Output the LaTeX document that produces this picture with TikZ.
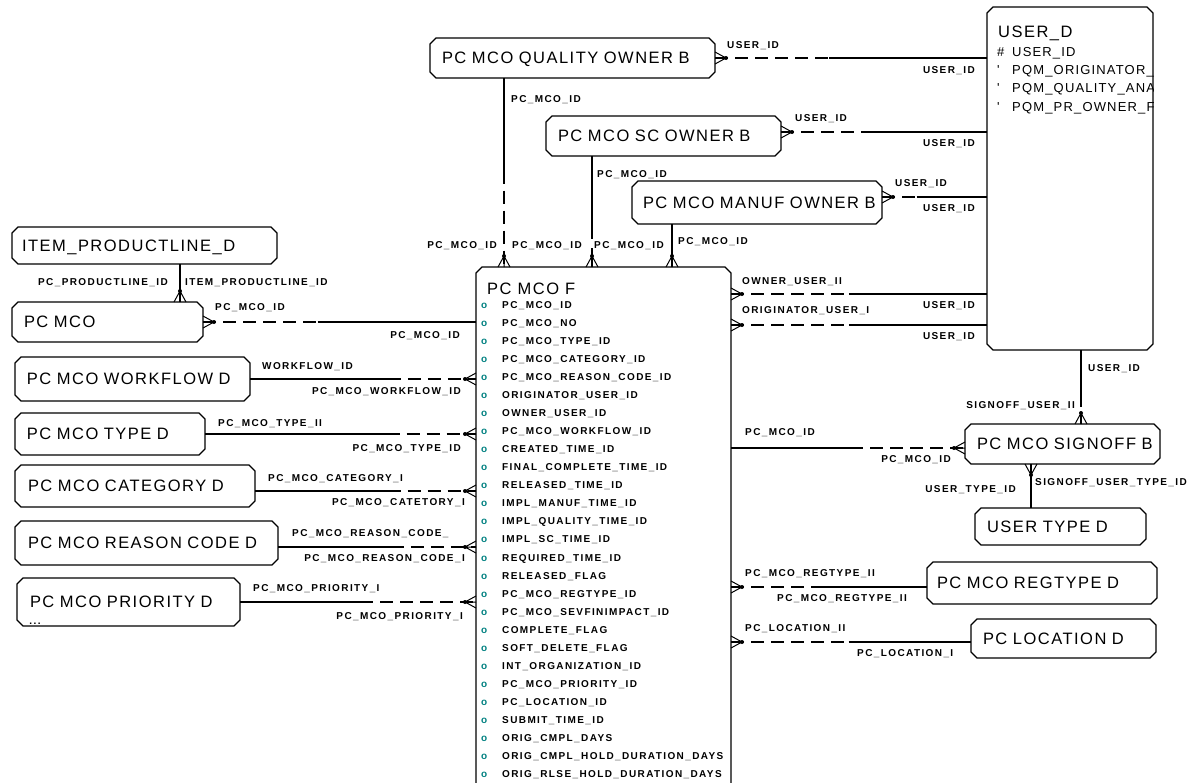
\documentclass[tikz,border=0pt]{standalone}
\usepackage{fontspec}
\setmainfont{Liberation Sans}
\newfontfamily\boxfont[LetterSpace=9]{Liberation Sans}
\newfontfamily\keyfont[LetterSpace=14]{Liberation Sans}
\usetikzlibrary{calc}
\definecolor{attrteal}{RGB}{0,128,128}

\begin{document}
\begin{tikzpicture}[x=1pt,y=-1pt,
  entity/.style={rectangle,outer sep=0pt,anchor=north west,inner xsep=12pt,inner ysep=0pt,
    align=left,font=\boxfont\fontsize{16.5}{18}\selectfont,text height=11.8pt,text depth=0pt,
    append after command={\pgfextra{\draw[rel]
      ([xshift=6pt]\tikzlastnode.north west) -- ([xshift=-6pt]\tikzlastnode.north east)
      -- ([yshift=-6pt]\tikzlastnode.north east) -- ([yshift=6pt]\tikzlastnode.south east)
      -- ([xshift=-6pt]\tikzlastnode.south east) -- ([xshift=6pt]\tikzlastnode.south west)
      -- ([yshift=6pt]\tikzlastnode.south west) -- ([yshift=-6pt]\tikzlastnode.north west) -- cycle;}}},
  lbl/.style={inner sep=0pt,font=\keyfont\bfseries\fontsize{10}{10}\selectfont,
    text height=7.2pt,text depth=0pt},
  uattr/.style={anchor=west,inner sep=0pt,font=\boxfont\fontsize{13}{13}\selectfont,
    text height=9.4pt,text depth=0pt},
  rel/.style={line width=1.2pt},
  opt/.style={rel,dash pattern=on 13pt off 7pt},
  crow/.pic={\draw[line width=1pt] (0,-6)--(-11,0)--(0,6) (0,0)--(-11,0);
    \fill (-11,0) circle (2);}]
\useasboundingbox (0,0) rectangle (1202,782);
\clip (0,0) rectangle (1202,782);

\node[entity,text width=261pt,minimum height=40pt] (qowner) at (430,38) {\mbox{PC MCO QUALITY OWNER B}};
\node[entity,text width=211pt,minimum height=40pt] (scowner) at (546,116) {\mbox{PC MCO SC OWNER B}};
\node[entity,text width=228pt,inner xsep=11pt,minimum height=43pt] (mowner) at (632,181) {\mbox{PC MCO MANUF OWNER B}};
\node[entity,minimum width=166pt,minimum height=343pt] (userd) at (987,7) {};
\node[entity,text width=245pt,inner xsep=10pt,minimum height=37pt] (prodline) at (12,227) {\mbox{ITEM\_PRODUCTLINE\_D}};
\node[entity,text width=167pt,minimum height=40pt] (pcmco) at (12,302) {\mbox{PC MCO}};
\node[entity,text width=211pt,minimum height=44pt] (workflow) at (15,357) {\mbox{PC MCO WORKFLOW D}};
\node[entity,text width=166pt,minimum height=42pt] (mcotype) at (15,413) {\mbox{PC MCO TYPE D}};
\node[entity,text width=214pt,inner xsep=13pt,minimum height=42pt] (category) at (15,465) {\mbox{PC MCO CATEGORY D}};
\node[entity,text width=237pt,inner xsep=13pt,minimum height=44pt] (reason) at (15,521) {\mbox{PC MCO REASON CODE D}};
\node[entity,text width=197pt,inner xsep=13pt,minimum height=48pt] (priority) at (17,578) {\mbox{PC MCO PRIORITY D}};
\node[entity,minimum width=255pt,minimum height=560pt] (mcof) at (476,267) {};
\node[entity,text width=171pt,minimum height=40pt] (signoff) at (965,424) {\mbox{PC MCO SIGNOFF B}};
\node[entity,text width=147pt,minimum height=37pt] (usertype) at (975,508) {\mbox{USER TYPE D}};
\node[entity,text width=210pt,inner xsep=10pt,minimum height=42pt] (regtype) at (927,562) {\mbox{PC MCO REGTYPE D}};
\node[entity,text width=161pt,minimum height=39pt] (location) at (971,619) {\mbox{PC LOCATION D}};
\node[lbl] (primore) at (35,621) {...};

\begin{scope}
\clip (userd.north west) rectangle (userd.south east);
\node[anchor=west,inner sep=0pt,font=\boxfont\fontsize{16.5}{18}\selectfont,text height=11.8pt,text depth=0pt] (usertitle) at (998,32) {USER\_D};
\node[uattr] (ua1) at (997,52) {\makebox[15pt][l]{\#}USER\_ID};
\node[uattr] (ua2) at (997,70) {\makebox[15pt][l]{'}PQM\_ORIGINATOR\_F};
\node[uattr] (ua3) at (997,88) {\makebox[15pt][l]{'}PQM\_QUALITY\_ANAL};
\node[uattr] (ua4) at (997,107) {\makebox[15pt][l]{'}PQM\_PR\_OWNER\_FL};
\end{scope}

\begin{scope}
\clip (mcof.north west) rectangle (mcof.south east);
\node[anchor=west,inner sep=0pt,font=\boxfont\fontsize{16.5}{18}\selectfont,text height=11.8pt,text depth=0pt] (mcoftitle) at (487,289) {PC MCO F};
\foreach \a [count=\i] in {PC\_MCO\_ID,PC\_MCO\_NO,PC\_MCO\_TYPE\_ID,PC\_MCO\_CATEGORY\_ID,
  PC\_MCO\_REASON\_CODE\_ID,ORIGINATOR\_USER\_ID,OWNER\_USER\_ID,PC\_MCO\_WORKFLOW\_ID,
  CREATED\_TIME\_ID,FINAL\_COMPLETE\_TIME\_ID,RELEASED\_TIME\_ID,IMPL\_MANUF\_TIME\_ID,
  IMPL\_QUALITY\_TIME\_ID,IMPL\_SC\_TIME\_ID,REQUIRED\_TIME\_ID,RELEASED\_FLAG,
  PC\_MCO\_REGTYPE\_ID,PC\_MCO\_SEVFINIMPACT\_ID,COMPLETE\_FLAG,SOFT\_DELETE\_FLAG,
  INT\_ORGANIZATION\_ID,PC\_MCO\_PRIORITY\_ID,PC\_LOCATION\_ID,SUBMIT\_TIME\_ID,
  ORIG\_CMPL\_DAYS,ORIG\_CMPL\_HOLD\_DURATION\_DAYS,ORIG\_RLSE\_HOLD\_DURATION\_DAYS}
  \node[lbl,anchor=west] (attr\i) at (481,286.97+18.03*\i) {\makebox[21pt][l]{\textcolor{attrteal}{o}}\a};
\end{scope}

\draw[opt] (qowner.east) -- ($(qowner.east)!.42!(qowner.east -| userd.west)$) coordinate (qu);
\draw[rel] (qu) -- (qu -| userd.west);
\pic[rotate=180] at (qowner.east) {crow};
\coordinate (su) at ([yshift=4pt]scowner.east);
\draw[opt] (su) -- ($(su)!.43!(su -| userd.west)$) coordinate (su2);
\draw[rel] (su2) -- (su2 -| userd.west);
\pic[rotate=180] at (su) {crow};
\coordinate (mu) at ([yshift=5.5pt]mowner.east);
\draw[opt] (mu) -- ($(mu)!.33!(mu -| userd.west)$) coordinate (mu2);
\draw[rel] (mu2) -- (mu2 -| userd.west);
\pic[rotate=180] at (mu) {crow};
\coordinate (ow) at ([yshift=253pt]mcof.east);
\draw[opt] (ow) -- ($(ow)!.46!(ow -| userd.west)$) coordinate (ow2);
\draw[rel] (ow2) -- (ow2 -| userd.west);
\pic[rotate=180] at (ow) {crow};
\coordinate (og) at ([yshift=222pt]mcof.east);
\draw[opt] (og) -- ($(og)!.46!(og -| userd.west)$) coordinate (og2);
\draw[rel] (og2) -- (og2 -| userd.west);
\pic[rotate=180] at (og) {crow};
\coordinate (us) at ([xshift=11pt]userd.south);
\draw[rel] (us) -- ($(us)!.6!(us |- signoff.north)$) coordinate (us2);
\draw[opt] (us2) -- (us2 |- signoff.north);
\pic[rotate=-90] at (us |- signoff.north) {crow};
\coordinate (sg) at ([yshift=99pt]mcof.east);
\draw[rel] (sg) -- ($(sg)!.51!(sg -| signoff.west)$) coordinate (sg2);
\draw[opt] (sg2) -- (sg2 -| signoff.west);
\pic at (sg -| signoff.west) {crow};
\coordinate (ut) at ([xshift=-29.5pt]usertype.north);
\draw[rel] (ut) -- (ut |- signoff.south);
\pic[rotate=90] at (ut |- signoff.south) {crow};
\coordinate (rg) at ([yshift=-40pt]mcof.east);
\draw[opt] (rg) -- ($(rg)!.45!(rg -| regtype.west)$) coordinate (rg2);
\draw[rel] (rg2) -- (rg2 -| regtype.west);
\pic[rotate=180] at (rg) {crow};
\coordinate (lo) at ([yshift=-95pt]mcof.east);
\draw[opt] (lo) -- ($(lo)!.49!(lo -| location.west)$) coordinate (lo2);
\draw[rel] (lo2) -- (lo2 -| location.west);
\pic[rotate=180] at (lo) {crow};

\coordinate (qm) at ([xshift=-68.5pt]qowner.south);
\draw[rel] (qm) -- ($(qm)!.49!(qm |- mcof.north)$) coordinate (qm2);
\draw[opt] (qm2) -- (qm2 |- mcof.north);
\pic[rotate=-90] at (qm |- mcof.north) {crow};
\coordinate (sm) at ([xshift=-71.5pt]scowner.south);
\draw[rel] (sm) -- ($(sm)!.75!(sm |- mcof.north)$) coordinate (sm2);
\draw[rel] ([yshift=-9pt]sm2) -- (sm2 |- mcof.north);
\pic[rotate=-90] at (sm |- mcof.north) {crow};
\coordinate (mm) at ([xshift=-85pt]mowner.south);
\draw[rel] (mm) -- (mm |- mcof.north);
\pic[rotate=-90] at (mm |- mcof.north) {crow};
\coordinate (pp) at ([xshift=35.5pt]prodline.south);
\draw[rel] (pp) -- (pp |- pcmco.north);
\pic[rotate=-90] at (pp |- pcmco.north) {crow};

\draw[opt] (pcmco.east) -- ($(pcmco.east)!.42!(pcmco.east -| mcof.west)$) coordinate (pm);
\draw[rel] (pm) -- (pm -| mcof.west);
\pic[rotate=180] at (pcmco.east) {crow};
\draw[rel] (workflow.east) -- ($(workflow.east)!.61!(workflow.east -| mcof.west)$) coordinate (wf);
\draw[opt] (wf) -- (wf -| mcof.west);
\pic at (workflow.east -| mcof.west) {crow};
\draw[rel] (mcotype.east) -- ($(mcotype.east)!.67!(mcotype.east -| mcof.west)$) coordinate (ty);
\draw[opt] (ty) -- (ty -| mcof.west);
\pic at (mcotype.east -| mcof.west) {crow};
\coordinate (ca) at ([yshift=-5pt]category.east);
\draw[rel] (ca) -- ($(ca)!.6!(ca -| mcof.west)$) coordinate (ca2);
\draw[opt] (ca2) -- (ca2 -| mcof.west);
\pic at (ca -| mcof.west) {crow};
\coordinate (re) at ([yshift=-4pt]reason.east);
\draw[rel] (re) -- ($(re)!.57!(re -| mcof.west)$) coordinate (re2);
\draw[opt] (re2) -- (re2 -| mcof.west);
\pic at (re -| mcof.west) {crow};
\draw[rel] (priority.east) -- ($(priority.east)!.51!(priority.east -| mcof.west)$) coordinate (pr);
\draw[opt] (pr) -- (pr -| mcof.west);
\pic at (priority.east -| mcof.west) {crow};

\node[lbl,anchor=west] (qu1) at (727,45) {USER\_ID};
\node[lbl,anchor=east] (qu2) at (975,70) {USER\_ID};
\node[lbl,anchor=west] (qm1) at (511,99) {PC\_MCO\_ID};
\node[lbl,anchor=east] (qm3) at (497,245) {PC\_MCO\_ID};
\node[lbl,anchor=west] (su1) at (795,118) {USER\_ID};
\node[lbl,anchor=east] (su3) at (975,143) {USER\_ID};
\node[lbl,anchor=west] (sm1) at (597,174) {PC\_MCO\_ID};
\node[lbl,anchor=west] (sm3) at (512,245) {PC\_MCO\_ID};
\node[lbl,anchor=west] (mu1) at (895,183) {USER\_ID};
\node[lbl,anchor=east] (mu3) at (975,208) {USER\_ID};
\node[lbl,anchor=west] (mm1) at (678,241) {PC\_MCO\_ID};
\node[lbl,anchor=west] (mm3) at (594,245) {PC\_MCO\_ID};
\node[lbl,anchor=east] (pp1) at (168,282) {PC\_PRODUCTLINE\_ID};
\node[lbl,anchor=west] (pp2) at (185,282) {ITEM\_PRODUCTLINE\_ID};
\node[lbl,anchor=west] (pm1) at (215,307) {PC\_MCO\_ID};
\node[lbl,anchor=east] (pm3) at (460,335) {PC\_MCO\_ID};
\node[lbl,anchor=west] (wf1) at (262,366) {WORKFLOW\_ID};
\node[lbl,anchor=east] (wf3) at (461,391) {PC\_MCO\_WORKFLOW\_ID};
\node[lbl,anchor=west] (ty1) at (218,423) {PC\_MCO\_TYPE\_II};
\node[lbl,anchor=east] (ty3) at (461,448) {PC\_MCO\_TYPE\_ID};
\node[lbl,anchor=west] (ca1) at (268,478) {PC\_MCO\_CATEGORY\_I};
\node[lbl,anchor=east] (ca3) at (465,502) {PC\_MCO\_CATETORY\_I};
\node[lbl,anchor=west] (re1) at (292,533) {PC\_MCO\_REASON\_CODE\_};
\node[lbl,anchor=east] (re3) at (465,558) {PC\_MCO\_REASON\_CODE\_I};
\node[lbl,anchor=west] (pr1) at (253,588) {PC\_MCO\_PRIORITY\_I};
\node[lbl,anchor=east] (pr3) at (463,616) {PC\_MCO\_PRIORITY\_I};
\node[lbl,anchor=west] (ow1) at (742,281) {OWNER\_USER\_II};
\node[lbl,anchor=east] (ow3) at (975,305) {USER\_ID};
\node[lbl,anchor=west] (og1) at (742,310) {ORIGINATOR\_USER\_I};
\node[lbl,anchor=east] (og3) at (975,336) {USER\_ID};
\node[lbl,anchor=west] (us1) at (1088,368) {USER\_ID};
\node[lbl,anchor=east] (us3) at (1075,405) {SIGNOFF\_USER\_II};
\node[lbl,anchor=west] (sg1) at (745,432) {PC\_MCO\_ID};
\node[lbl,anchor=east] (sg3) at (951,459) {PC\_MCO\_ID};
\node[lbl,anchor=east] (ut1) at (1016,489) {USER\_TYPE\_ID};
\node[lbl,anchor=west] (ut3) at (1035,482) {SIGNOFF\_USER\_TYPE\_ID};
\node[lbl,anchor=west] (rg1) at (745,573) {PC\_MCO\_REGTYPE\_II};
\node[lbl,anchor=west] (rg3) at (777,598) {PC\_MCO\_REGTYPE\_II};
\node[lbl,anchor=west] (lo1) at (745,628) {PC\_LOCATION\_II};
\node[lbl,anchor=west] (lo3) at (857,653) {PC\_LOCATION\_I};
\end{tikzpicture}
\end{document}
